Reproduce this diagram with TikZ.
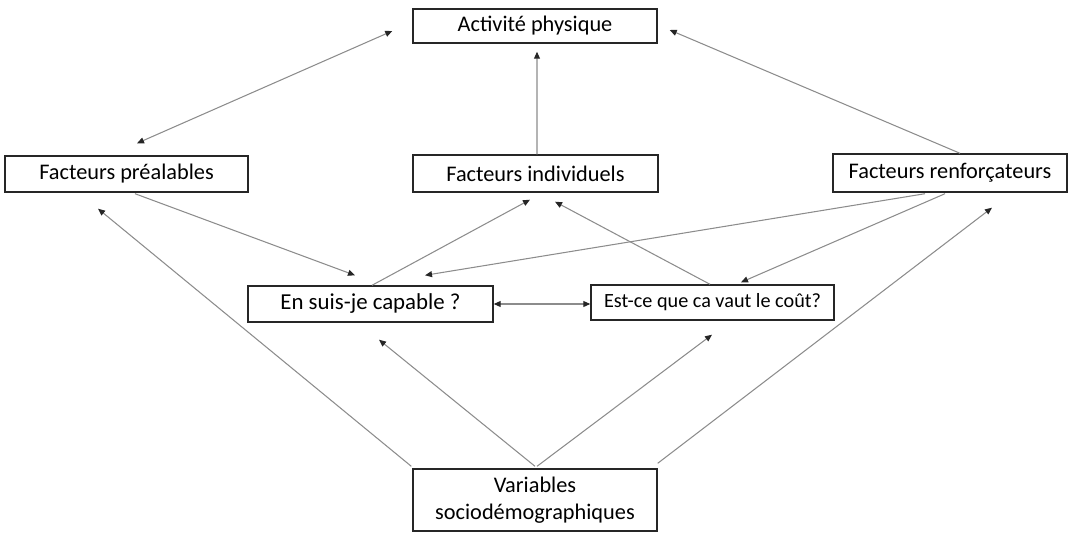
\documentclass[tikz,border=0pt]{standalone}
\usepackage{fontspec}
\setmainfont{Carlito}
\usetikzlibrary{arrows.meta,calc}
\begin{document}
\begin{tikzpicture}[x=0.02cm,y=-0.02cm,
  box/.style={draw=black!85,line width=0.8pt,fill=white,inner sep=0pt,align=center,font=\fontsize{12.7}{15}\selectfont},
  arr/.style={draw=black!45,line width=0.6pt,-{Triangle[length=4pt,width=3.4pt,color=black!85]}},
  darr/.style={draw=black!45,line width=0.6pt,{Triangle[length=4pt,width=3.4pt,color=black!85]}-{Triangle[length=4pt,width=3.4pt,color=black!85]}}]
\useasboundingbox (0,0) rectangle (1069,534);
\node[box,minimum width=244*0.02cm,minimum height=34*0.02cm] (act) at (535,26) {Activité physique};
\node[box,minimum width=243*0.02cm,minimum height=36*0.02cm] (pre) at (126.5,174) {Facteurs préalables};
\node[box,minimum width=245*0.02cm,minimum height=37*0.02cm] (ind) at (535.5,173.5) {Facteurs individuels};
\node[box,minimum width=234*0.02cm,minimum height=38*0.02cm] (ren) at (950,173) {Facteurs renforçateurs};
\node[box,minimum width=245*0.02cm,minimum height=36*0.02cm,font=\fontsize{13}{15}\selectfont] (cap) at (370.5,304) {En suis-je capable ?};
\node[box,minimum width=243*0.02cm,minimum height=35*0.02cm,font=\fontsize{11.5}{13}\selectfont] (cout) at (712.5,302.5) {Est-ce que ca vaut le coût?};
\node[box,minimum width=244*0.02cm,minimum height=62*0.02cm,font=\fontsize{12.7}{15.5}\selectfont] (var) at (535,500) {Variables\\sociodémographiques};
% connectors
\draw[darr] ($(act.west)+(-20,5)$) -- ($(pre.north)+(10.5,-12)$);
\draw[arr] ($(ind.north)+(1.5,0)$) -- ($(act.south)+(2,8)$);
\draw[arr] ($(ren.north)+(10,0)$) -- ($(act.east)+(12,4)$);
\draw[arr] ($(pre.south)+(8.5,1)$) -- ($(cap.north)+(-15.5,-10)$);
\draw[arr] ($(cap.north)+(1.5,0)$) -- ($(ind.south)+(-5.5,7)$);
\draw[arr] ($(cout.north)+(-2.5,0)$) -- ($(ind.south)+(19.5,9)$);
\draw[arr] ($(ren.south)+(-25,1)$) -- ($(cap.north)+(54.5,-10)$);
\draw[arr] ($(ren.south)+(-5,1)$) -- ($(cout.north)+(28.5,-2)$);
\draw[darr] (cap.east) -- (cout.west |- cap.east);
\draw[arr] ($(var.north west)+(-1,-2)$) -- ($(pre.south)+(-28.5,16)$);
\draw[arr] ($(var.north)+(0,-2)$) -- ($(cap.south)+(8.5,17)$);
\draw[arr] ($(var.north)+(2,-2)$) -- ($(cout.south)+(-0.5,14)$);
\draw[arr] ($(var.north east)+(0,-5)$) -- ($(ren.south)+(42,15)$);
\end{tikzpicture}
\end{document}
